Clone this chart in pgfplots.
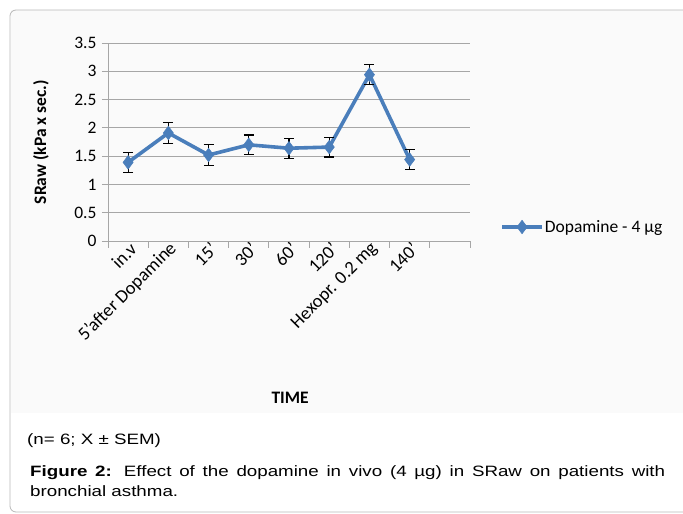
\documentclass[border=0pt]{standalone}
\usepackage{pgfplots}
\pgfplotsset{compat=1.18}
\usepackage{pgfplotstable}
\usepackage{fontspec}
\setmainfont{Carlito}
\newfontfamily\chartfont{Carlito}
\newfontfamily\capfont[FakeStretch=1.25]{Liberation Sans}
\newcommand\cf{\chartfont\fontsize{17.5}{20}\selectfont}
\newcommand\cfx{\chartfont\fontsize{18.5}{21}\selectfont}
\definecolor{excelblue}{HTML}{4A7EBB}
\definecolor{gridgray}{HTML}{A6A6A6}
\definecolor{framegray}{HTML}{B8B8B8}
\definecolor{chartbg}{HTML}{FAFAFA}
\pgfplotstableread{
x y e
0 1.39 0.175
1 1.91 0.18
2 1.52 0.18
3 1.70 0.175
4 1.64 0.175
5 1.66 0.175
6 2.94 0.18
7 1.44 0.175
}\dopa
\begin{document}
\begin{tikzpicture}[x=1pt,y=1pt]
\path[use as bounding box] (0,0) rectangle (683,514);
\fill[chartbg] (10.5,101) rectangle (683,503.5);
\draw[framegray, line width=0.8pt, rounded corners=6pt] (683,504) -- (10,504) -- (10,2) -- (683,2);
\begin{axis}[
  at={(108pt,273pt)}, anchor=south west,
  scale only axis, width=362pt, height=198pt,
  xmin=-0.5, xmax=8.5, ymin=0, ymax=3.5,
  axis x line=bottom, axis y line=left,
  axis line style={draw=gridgray, line width=0.8pt, -},
  ytick={0,0.5,1,1.5,2,2.5,3,3.5},
  yticklabels={0,0.5,1,1.5,2,2.5,3,3.5},
  ymajorgrids, grid style={draw=gridgray, line width=0.8pt},
  tick align=outside,
  major tick length=6pt, minor tick length=7pt,
  every tick/.style={draw=gridgray, line width=0.8pt},
  xtick={0,...,7},
  xticklabels={in.v, 5’after Dopamine, 15’, 30’, 60’, 120’, Hexopr. 0.2 mg, 140’},
  major x tick style={draw=none},
  minor xtick={-0.5,0.5,...,8.5},
  xticklabel style={rotate=45, anchor=east, font=\cfx, xshift=8pt, yshift=-3pt},
  yticklabel style={font=\cf, xshift=-2pt},
  ylabel={SRaw (kPa x sec.)},
  ylabel style={at={(axis description cs:-0.185,0.5)}, anchor=center, font=\cf\bfseries},
  xlabel={TIME},
  xlabel style={at={(axis description cs:0.503,-0.79)}, anchor=center, font=\cf\bfseries},
  legend style={at={(axis description cs:1.083,0.0707)}, anchor=west, draw=none, fill=none,
    font=\cf, inner sep=0pt, nodes={inner xsep=1pt}},
  legend image code/.code={\draw[mark repeat=2,mark phase=2] plot coordinates {(0pt,0pt)(20pt,0pt)(40pt,0pt)};},
]
\addplot[color=excelblue, line width=3.6pt, mark=diamond*, mark size=6.8pt,
  mark options={solid, line width=0.5pt, fill=excelblue, draw=excelblue},
  error bars/.cd, y dir=both, y explicit,
  error bar style={black, line width=1.2pt},
  error mark options={rotate=90, mark size=5pt, black, line width=1.2pt}]
  table[x=x, y=y, y error=e] {\dopa};
\addlegendentry{Dopamine - 4 µg}
\end{axis}
\node[anchor=base west, inner sep=0pt, font=\capfont\fontsize{15}{19}\selectfont] at (27,69) {(n= 6; X ± SEM)};
\node[anchor=base west, inner sep=0pt, font=\capfont\fontsize{15}{19}\selectfont] at (30,37) {\makebox[635pt][s]{\textbf{Figure 2:} Effect of the dopamine in vivo (4 µg) in SRaw on patients with}};
\node[anchor=base west, inner sep=0pt, font=\capfont\fontsize{15}{19}\selectfont] at (30,17) {bronchial asthma.};
\end{tikzpicture}
\end{document}
